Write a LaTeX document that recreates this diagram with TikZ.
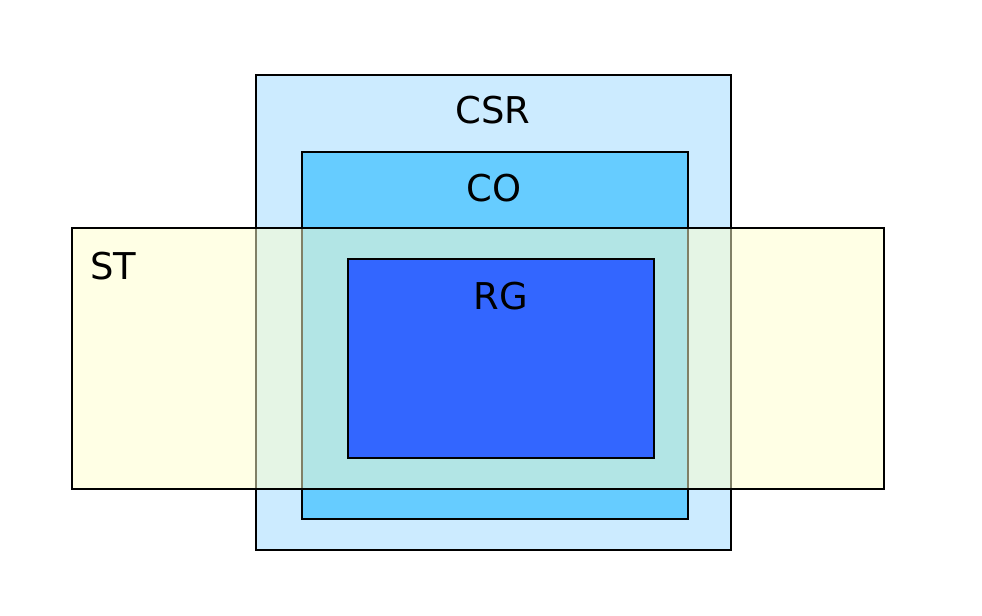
\documentclass[tikz,border=0pt]{standalone}
\usepackage{fontspec}
\setmainfont{DejaVu Sans}
\usepackage{tikz}
\usetikzlibrary{positioning}

\definecolor{csrblue}{HTML}{CCEBFF}
\definecolor{coblue}{HTML}{66CCFF}
\definecolor{rgblue}{HTML}{3366FF}
\definecolor{styellow}{HTML}{FFFFCC}

\begin{document}
\begin{tikzpicture}[
			x=0.01cm, y=-0.01cm,
			box/.style={draw=black, line width=0.45pt},
			lbl/.style={font=\fontsize{10.5}{12}\selectfont, inner sep=0pt}
			]

			\useasboundingbox (0,0) rectangle (982,616);

			\draw[box,fill=csrblue] (256,75) rectangle (731,550);
			\draw[box,fill=coblue] (302,152) rectangle (688,519);
			\draw[box,fill=styellow,fill opacity=0.5] (72,228) rectangle (884,489);
			\draw[box,fill=rgblue] (348,259) rectangle (654,458);

			\node[lbl] (csr) at (493,110) {CSR};
			\node[lbl] (co) at (494,188) {CO};
			\node[lbl] (st) at (113,266) {ST};
			\node[lbl] (rg) at (501,296) {RG};

			\end{tikzpicture}
\end{document}
